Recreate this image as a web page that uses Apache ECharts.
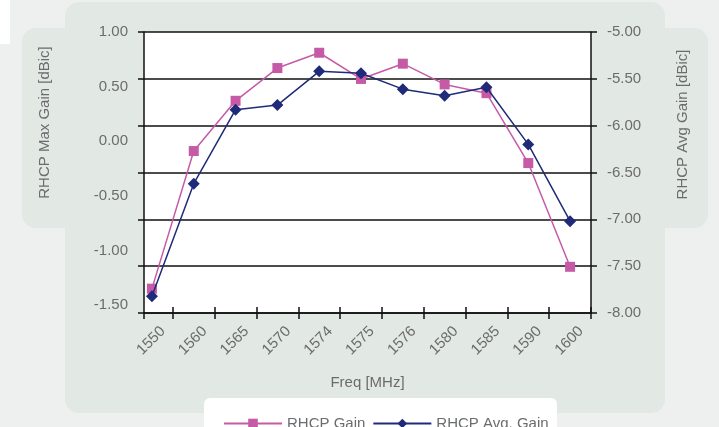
<!DOCTYPE html>
<html>
<head>
<meta charset="utf-8">
<script src="https://cdn.jsdelivr.net/npm/echarts@6/dist/echarts.min.js"></script>
<style>
  html, body { margin: 0; padding: 0; background: #eef0ef; }
  #chart { width: 719px; height: 427px; }
</style>
</head>
<body>
<div id="chart"></div>
<script>
// 频率分类 & 两条增益曲线
const freqLabels = ['1550', '1560', '1565', '1570', '1574', '1575', '1576', '1580', '1585', '1590', '1600']
const rhcpGain = [-1.35, -0.09, 0.37, 0.67, 0.81, 0.57, 0.71, 0.52, 0.44, -0.2, -1.15]
const rhcpAvgGain = [-7.82, -6.62, -5.83, -5.78, -5.42, -5.44, -5.61, -5.68, -5.59, -6.2, -7.02]

// 左轴标签值
const leftLabels = [1, 0.5, 0, -0.5, -1, -1.5]

// 左轴范围（Excel里左轴标签与网格线不对齐）
const leftMax = 1
const leftMin = -1.573
const gridCount = 6
const leftTicks = []
for (let k = 0; k <= gridCount; k++) leftTicks.push(leftMax - (k * (leftMax - leftMin)) / gridCount)

const xMin = -0.19
const xMax = 10.5
const xTicks = [xMin]
for (let i = 0; i < freqLabels.length; i++) xTicks.push(i + 0.5)
const xLabelPos = freqLabels.map((_, i) => i)

const textColor = '#6b6c6e'
const font = 'Liberation Sans, Arial, sans-serif'
const lineBlack = { color: '#111', width: 1.5 }

const chart = echarts.init(document.getElementById('chart'))

chart.setOption({
  animation: false,
  textStyle: { fontFamily: font },
  graphic: [
    { type: 'rect', z: -10, silent: true, shape: { x: 0, y: 0, width: 10, height: 44 }, style: { fill: '#fff' } },
    { type: 'rect', z: -10, silent: true, shape: { x: 65, y: 2, width: 600, height: 411, r: 14 }, style: { fill: '#e2e8e4' } },
    { type: 'rect', z: -10, silent: true, shape: { x: 22, y: 28, width: 686, height: 200, r: 14 }, style: { fill: '#e2e8e4' } },
    { type: 'rect', z: -9, silent: true, shape: { x: 204, y: 398, width: 353, height: 40, r: 6 }, style: { fill: '#fff' } },
  ],
  grid: {
    left: 144,
    right: 128,
    top: 32,
    bottom: 114,
    show: true,
    backgroundColor: '#fff',
    borderWidth: 0,
  },
  legend: {
    left: 218,
    top: 411,
    itemWidth: 58,
    itemHeight: 12,
    itemGap: 7,
    textStyle: { color: textColor, fontSize: 15, fontFamily: font },
    data: ['RHCP Gain', 'RHCP Avg. Gain'],
  },
  xAxis: [
    {
      type: 'value',
      min: xMin,
      max: xMax,
      name: 'Freq [MHz]',
      nameLocation: 'middle',
      nameGap: 62,
      nameTextStyle: { color: textColor, fontSize: 15 },
      axisLine: { show: true, onZero: false, lineStyle: lineBlack },
      axisTick: { show: true, customValues: xTicks.concat([xMax]), length: 6, lineStyle: lineBlack },
      axisLabel: {
        customValues: xLabelPos,
        formatter: (v) => freqLabels[Math.round(v)],
        rotate: 45,
        verticalAlign: 'top',
        padding: [8, 0, 0, 0],
        margin: 5,
        color: textColor,
        fontSize: 15,
      },
      splitLine: { show: false },
    },
    {
      // 只画朝内的刻度，做出“十字”刻度效果
      type: 'value',
      position: 'bottom',
      min: xMin,
      max: xMax,
      axisLine: { show: false, onZero: false },
      axisTick: { show: true, inside: true, customValues: xTicks.slice(1), length: 6, lineStyle: lineBlack },
      axisLabel: { show: false },
      splitLine: { show: false },
    },
  ],
  yAxis: [
    {
      type: 'value',
      min: leftMin,
      max: leftMax,
      name: 'RHCP Max Gain [dBic]',
      nameLocation: 'middle',
      nameGap: 92,
      nameRotate: 90,
      nameTextStyle: { color: textColor, fontSize: 15, padding: [0, 0, 0, 100] },
      axisLine: { show: true, onZero: false, lineStyle: lineBlack },
      axisTick: { show: true, customValues: leftTicks, length: 6, lineStyle: lineBlack },
      axisLabel: {
        customValues: leftLabels,
        formatter: (v) => v.toFixed(2),
        margin: 16,
        color: textColor,
        fontSize: 15,
      },
      splitLine: { show: false },
    },
    {
      type: 'value',
      min: -8,
      max: -5,
      interval: 0.5,
      position: 'right',
      name: 'RHCP Avg Gain [dBic]',
      nameLocation: 'middle',
      nameGap: 84,
      nameRotate: 90,
      nameTextStyle: { color: textColor, fontSize: 15, padding: [0, 0, 0, 96] },
      axisLine: { show: true, onZero: false, lineStyle: lineBlack },
      axisTick: { show: true, length: 6, lineStyle: lineBlack },
      axisLabel: {
        formatter: (v) => v.toFixed(2),
        margin: 16,
        color: textColor,
        fontSize: 15,
      },
      splitLine: { show: true, lineStyle: lineBlack },
    },
  ],
  series: [
    {
      name: 'RHCP Gain',
      type: 'line',
      xAxisIndex: 0,
      yAxisIndex: 0,
      data: rhcpGain.map((v, i) => [i, v]),
      symbol: 'rect',
      symbolSize: 10,
      lineStyle: { color: '#c65aa7', width: 1.5 },
      itemStyle: { color: '#c65aa7' },
      z: 3,
    },
    {
      name: 'RHCP Avg. Gain',
      type: 'line',
      xAxisIndex: 0,
      yAxisIndex: 1,
      data: rhcpAvgGain.map((v, i) => [i, v]),
      symbol: 'diamond',
      symbolSize: 12,
      lineStyle: { color: '#1f2a78', width: 1.5 },
      itemStyle: { color: '#1f2a78' },
      z: 4,
    },
  ],
})
</script>
</body>
</html>
